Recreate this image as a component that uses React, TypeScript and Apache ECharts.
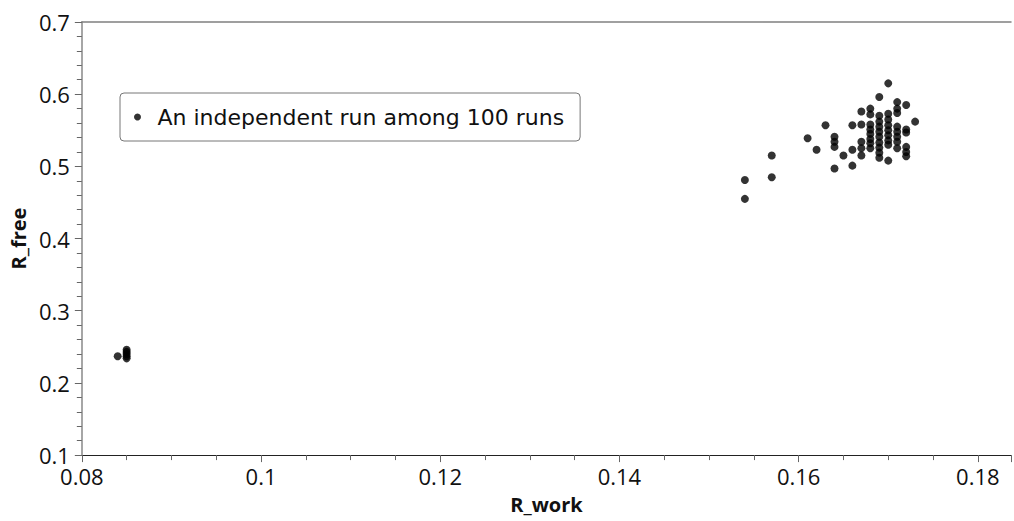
import React, { useEffect, useRef } from "react";
import * as echarts from "echarts";

// R_work values (x) and R_free values (y), one entry per visible run
const rWork: number[] = [
  0.084, 0.085, 0.085, 0.085, 0.085, 0.085,
  0.154, 0.154,
  0.157, 0.157,
  0.161,
  0.162,
  0.163,
  0.164, 0.164, 0.164, 0.164,
  0.165,
  0.166, 0.166, 0.166,
  0.167, 0.167, 0.167, 0.167, 0.167,
  0.168, 0.168, 0.168, 0.168, 0.168, 0.168, 0.168, 0.168,
  0.169, 0.169, 0.169, 0.169, 0.169, 0.169, 0.169, 0.169, 0.169, 0.169,
  0.17, 0.17, 0.17, 0.17, 0.17, 0.17, 0.17, 0.17, 0.17,
  0.171, 0.171, 0.171, 0.171, 0.171, 0.171, 0.171, 0.171,
  0.172, 0.172, 0.172, 0.172, 0.172, 0.172,
  0.173,
];
const rFree: number[] = [
  0.237, 0.246, 0.243, 0.24, 0.237, 0.234,
  0.481, 0.455,
  0.515, 0.485,
  0.539,
  0.523,
  0.557,
  0.541, 0.534, 0.527, 0.497,
  0.515,
  0.557, 0.523, 0.501,
  0.576, 0.558, 0.534, 0.525, 0.515,
  0.58, 0.572, 0.558, 0.551, 0.545, 0.538, 0.532, 0.525,
  0.596, 0.57, 0.562, 0.555, 0.548, 0.541, 0.533, 0.526, 0.519, 0.512,
  0.615, 0.573, 0.565, 0.557, 0.55, 0.543, 0.536, 0.53, 0.508,
  0.589, 0.58, 0.574, 0.555, 0.548, 0.541, 0.534, 0.525,
  0.585, 0.551, 0.547, 0.527, 0.52, 0.514,
  0.562,
];

const seriesName = "An independent run among 100 runs";
const xTitle = "R_work";
const yTitle = "R_free";

export default function App() {
  const ref = useRef<HTMLDivElement>(null);

  useEffect(() => {
    if (!ref.current) return;
    document.documentElement.style.overflow = "hidden";
    document.body.style.overflow = "hidden";
    document.body.style.margin = "0";
    const chart = echarts.init(ref.current, null, { renderer: "svg" });
    const data = rWork.map((x, i) => [x, rFree[i]]);
    const font = "Open Sans";
    const isMultiple = (v: number, step: number) =>
      Math.abs(Math.round(v / step) * step - v) < 1e-9;

    chart.setOption({
      animation: false,
      backgroundColor: "#ffffff",
      textStyle: { fontFamily: font },
      grid: { left: 80, right: 1, top: 22, bottom: 55, containLabel: false },
      legend: {
        show: true,
        left: 120,
        top: 93,
        orient: "vertical",
        icon: "circle",
        itemWidth: 30,
        itemHeight: 7,
        padding: [13, 16, 13, 14],
        borderColor: "#777777",
        borderWidth: 1,
        borderRadius: 4,
        backgroundColor: "#ffffff",
        textStyle: { fontFamily: "DejaVu Sans", fontSize: 22, color: "#111111", lineHeight: 22 },
        data: [seriesName],
      },
      xAxis: [
        {
          type: "value",
          min: 0.08,
          max: 0.1837,
          interval: 0.02,
          name: xTitle,
          nameLocation: "middle",
          nameGap: 32,
          nameTextStyle: { fontFamily: font, fontSize: 20, fontWeight: "bold", color: "#111111", lineHeight: 24 },
          axisLine: { show: true, onZero: false, lineStyle: { color: "#222222", width: 1 } },
          axisTick: { show: true, length: 7, lineStyle: { color: "#666666" } },
          minorTick: { show: true, splitNumber: 4, length: 5, lineStyle: { color: "#666666" } },
          splitLine: { show: false },
          axisLabel: {
            fontFamily: font,
            fontSize: 22,
            lineHeight: 18,
            color: "#111111",
            margin: 12,
            formatter: (v: number) => (isMultiple(v, 0.02) ? String(+v.toFixed(2)) : ""),
          },
        },
        {
          type: "value",
          position: "top",
          min: 0.08,
          max: 0.1837,
          axisLine: { show: true, onZero: false, lineStyle: { color: "#808080", width: 1.5 } },
          axisTick: { show: false },
          axisLabel: { show: false },
          splitLine: { show: false },
        },
      ],
      yAxis: {
        type: "value",
        min: 0.1,
        max: 0.7,
        interval: 0.1,
        name: yTitle,
        nameLocation: "middle",
        nameGap: 46,
        nameRotate: 90,
        nameTextStyle: { fontFamily: font, fontSize: 20, fontWeight: "bold", color: "#111111" },
        axisLine: { show: true, onZero: false, lineStyle: { color: "#888888", width: 1.5 } },
        axisTick: { show: true, length: 7, lineStyle: { color: "#666666" } },
        minorTick: { show: true, splitNumber: 5, length: 5, lineStyle: { color: "#666666" } },
        splitLine: { show: false },
        axisLabel: {
          fontFamily: font,
          fontSize: 22,
          lineHeight: 18,
          color: "#111111",
          margin: 12,
          formatter: (v: number) => String(+v.toFixed(1)),
        },
      },
      series: [
        {
          name: seriesName,
          type: "scatter",
          xAxisIndex: 0,
          symbol: "circle",
          symbolSize: 8,
          itemStyle: { color: "#000000" },
          data,
        },
      ],
    });

    return () => chart.dispose();
  }, []);

  return (
    <div
      ref={ref}
      style={{ position: "fixed", left: 0, top: 0, width: 1014, height: 521 }}
    />
  );
}
